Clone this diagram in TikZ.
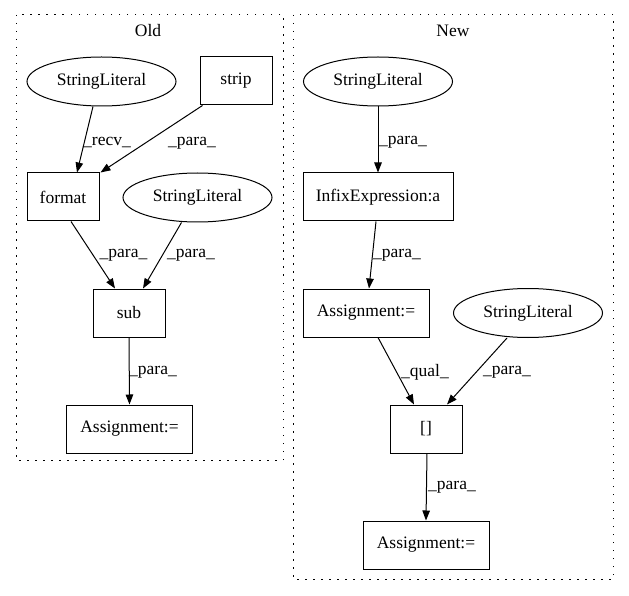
\documentclass[tikz,border=0pt]{standalone}
\usepackage{fontspec}
\setmainfont{Liberation Serif}
\usetikzlibrary{shapes.geometric,arrows.meta}
\begin{document}
\begin{tikzpicture}[x=1pt,y=-1pt,
  txt/.style={font=\fontsize{17.5}{20}\selectfont},
  box/.style={txt,draw,line width=1pt,minimum height=48pt,inner sep=0pt},
  ell/.style={txt,draw,ellipse,line width=1pt,minimum width=149pt,minimum height=49pt,inner sep=0pt},
  edge/.style={line width=1pt,-{Triangle[length=10pt,width=7.5pt]}},
  lab/.style={txt,inner sep=0pt},
  cluster/.style={draw,line width=1pt,dash pattern=on 1.5pt off 6.5pt}]
\useasboundingbox (0,0) rectangle (629,596);
% clusters
\draw[cluster] (16,15) rectangle (283,460);
\draw[cluster] (293,15) rectangle (613,579);
\node[txt] (oldt) at (148,31) {Old};
\node[txt] (newt) at (453,31) {New};
% Old nodes
\node[ell] (sl1) at (101.5,81.5) {StringLiteral};
\node[box,minimum width=72pt] (strip) at (236,81) {strip};
\node[box,minimum width=72pt] (format) at (63,197) {format};
\node[ell] (sl2) at (197.5,197.5) {StringLiteral};
\node[box,minimum width=72pt] (sub) at (129,313) {sub};
\node[box,minimum width=126pt] (asg1) at (129.5,429) {Assignment:=};
% New nodes
\node[ell] (sl3) at (378,81.5) {StringLiteral};
\node[box,minimum width=150pt] (infix) at (378,197) {InfixExpression:a};
\node[box,minimum width=126pt] (asg2) at (366,313) {Assignment:=};
\node[ell] (sl4) at (528,313) {StringLiteral};
\node[box,minimum width=72pt] (idx) at (426,429) {[]};
\node[box,minimum width=126pt] (asg3) at (426,545) {Assignment:=};
% Old edges
\draw[edge] ([xshift=-8.5pt]sl1.south) -- ([xshift=14pt]format.north)
  node[lab] at (107,143) {\_recv\_};
\draw[edge] ([xshift=3pt]strip.south west) -- ([xshift=1pt]format.north east)
  node[lab] at (192,143) {\_para\_};
\draw[edge] ([xshift=8pt]format.south) -- ([xshift=-14pt]sub.north)
  node[lab] at (123.5,255) {\_para\_};
\draw[edge] ([xshift=-16pt]sl2.south) -- ([xshift=14pt]sub.north)
  node[lab] at (191,255) {\_para\_};
\draw[edge] (sub.south) -- (asg1.north)
  node[lab] at (153,372) {\_para\_};
% New edges
\draw[edge] (sl3.south) -- (infix.north)
  node[lab] at (403,142) {\_para\_};
\draw[edge] ([xshift=-2pt]infix.south) -- ([xshift=3pt]asg2.north)
  node[lab] at (397,255) {\_para\_};
\draw[edge] ([xshift=12pt]asg2.south) -- ([xshift=-12pt]idx.north)
  node[lab] at (425,372) {\_qual\_};
\draw[edge] ([xshift=-21pt]sl4.south) -- ([xshift=21pt]idx.north)
  node[lab] at (507,372) {\_para\_};
\draw[edge] ([xshift=1pt]idx.south) -- (asg3.north)
  node[lab] at (452,487) {\_para\_};
\end{tikzpicture}
\end{document}
